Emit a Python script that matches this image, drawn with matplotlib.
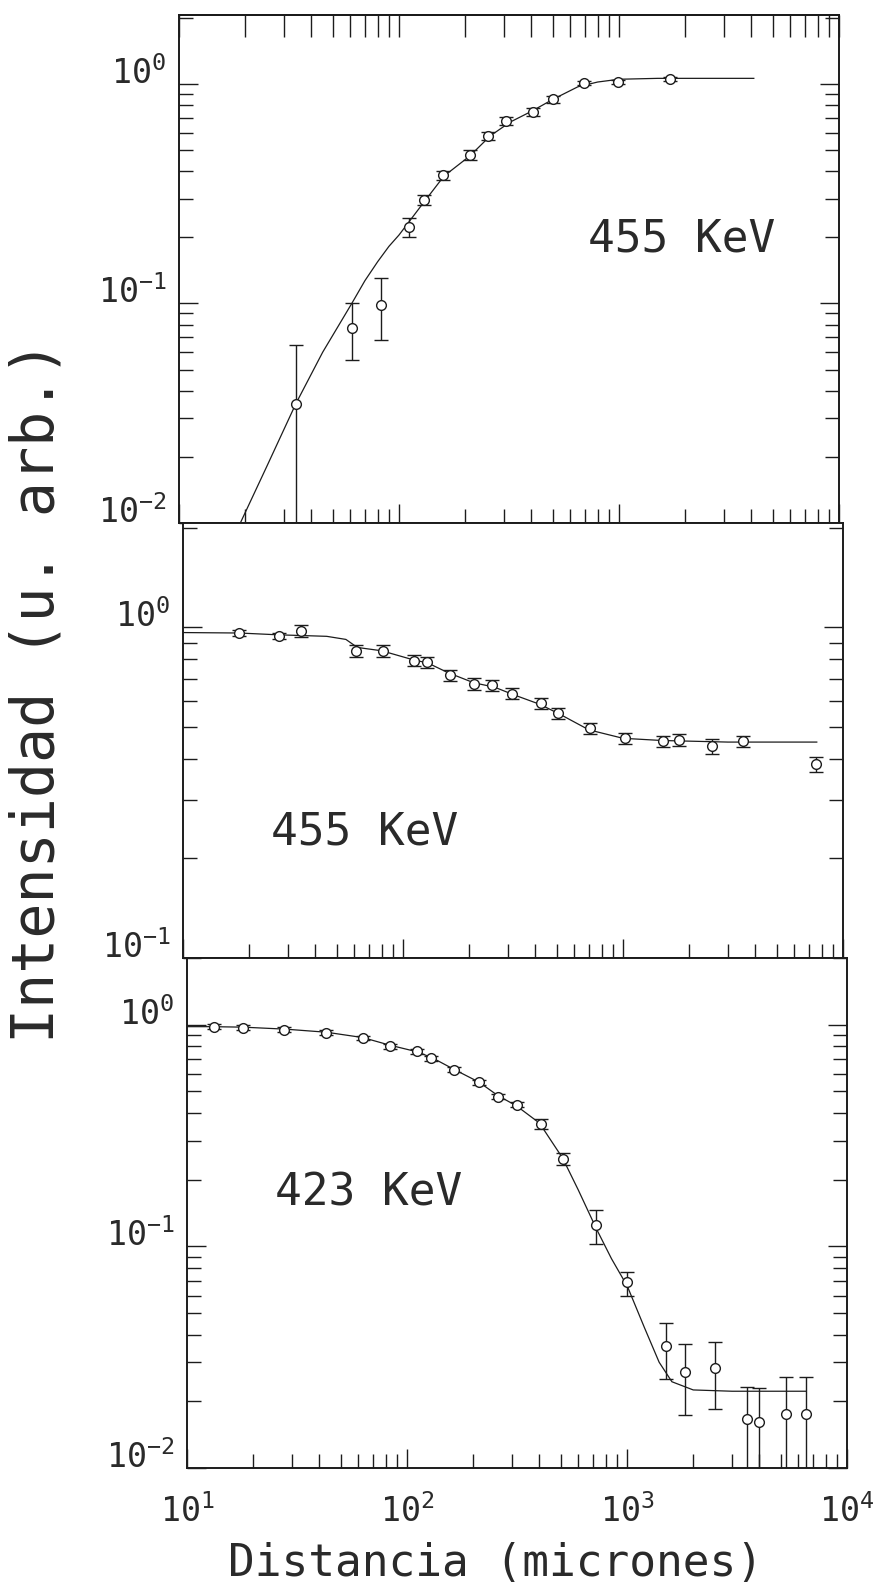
import numpy as np
import matplotlib.pyplot as plt
from matplotlib.ticker import LogLocator, NullFormatter, FuncFormatter

plt.rcParams['font.family'] = ['DejaVu Sans Mono']
plt.rcParams['mathtext.fontset'] = 'custom'
plt.rcParams['mathtext.rm'] = 'DejaVu Sans Mono'
plt.rcParams['mathtext.it'] = 'DejaVu Sans Mono'
plt.rcParams['mathtext.bf'] = 'DejaVu Sans Mono'
plt.rcParams['axes.unicode_minus'] = False

INK = '#1c1c1c'
TXT = '#2a2a2a'

# panel 1: 455 KeV (rising)
top_x = [34, 61, 83, 111, 130, 158, 211, 253, 305, 405, 501, 692, 986, 1714]
top_y = [0.035, 0.077, 0.098, 0.222, 0.297, 0.383, 0.475, 0.58, 0.68, 0.743, 0.85, 1.01, 1.02, 1.05]
top_lo = [0.001, 0.055, 0.068, 0.200, 0.282, 0.364, 0.452, 0.553, 0.652, 0.712, 0.820, 0.99, 1.00, 1.03]
top_hi = [0.065, 0.100, 0.131, 0.245, 0.312, 0.402, 0.498, 0.607, 0.708, 0.774, 0.880, 1.03, 1.04, 1.07]
top_fit_x = [19, 25, 34, 45, 61, 70, 80, 90, 100, 130, 160, 210, 260, 320, 400, 500, 650, 800, 1000, 1500, 4100]
top_fit_y = [0.010, 0.018, 0.035, 0.060, 0.100, 0.127, 0.155, 0.182, 0.205, 0.29, 0.38, 0.47, 0.58, 0.67, 0.75, 0.85, 0.97, 1.02, 1.05, 1.06, 1.06]

# panel 2: 455 KeV (falling)
mid_x = [18, 27.3, 34.3, 61.4, 81, 112, 129, 163, 210, 253, 313, 423, 509, 705, 1023, 1520, 1790, 2540, 3510, 7500]
mid_y = [0.96, 0.945, 0.975, 0.851, 0.851, 0.794, 0.785, 0.716, 0.676, 0.668, 0.631, 0.589, 0.55, 0.495, 0.462, 0.452, 0.457, 0.437, 0.452, 0.385]
mid_lo = [0.94, 0.925, 0.935, 0.815, 0.815, 0.762, 0.754, 0.687, 0.649, 0.641, 0.606, 0.565, 0.528, 0.475, 0.444, 0.434, 0.439, 0.415, 0.434, 0.365]
mid_hi = [0.98, 0.965, 1.015, 0.887, 0.887, 0.826, 0.816, 0.745, 0.703, 0.695, 0.656, 0.613, 0.572, 0.515, 0.480, 0.470, 0.475, 0.459, 0.470, 0.405]
mid_fit_x = [10, 18, 27, 35, 45, 55, 62, 80, 110, 130, 160, 210, 260, 320, 420, 520, 700, 1000, 1500, 3000, 7600]
mid_fit_y = [0.965, 0.962, 0.95, 0.945, 0.94, 0.92, 0.87, 0.85, 0.80, 0.78, 0.73, 0.68, 0.66, 0.625, 0.585, 0.545, 0.49, 0.462, 0.455, 0.45, 0.45]

# panel 3: 423 KeV
bot_x = [13.2, 17.9, 27.7, 43, 63.2, 83.5, 111, 129, 163, 213, 258, 315, 407, 513, 726, 1004, 1503, 1835, 2500, 3510, 3980, 5300, 6500]
bot_y = [0.98, 0.97, 0.95, 0.92, 0.872, 0.80, 0.758, 0.705, 0.628, 0.551, 0.474, 0.435, 0.356, 0.248, 0.125, 0.069, 0.0356, 0.027, 0.0282, 0.0166, 0.0162, 0.0176, 0.0176]
bot_lo = [0.955, 0.945, 0.926, 0.897, 0.850, 0.780, 0.739, 0.687, 0.612, 0.537, 0.462, 0.424, 0.338, 0.232, 0.103, 0.0595, 0.0253, 0.0173, 0.0184, 0.001, 0.001, 0.001, 0.001]
bot_hi = [1.005, 0.995, 0.974, 0.943, 0.894, 0.820, 0.777, 0.723, 0.644, 0.565, 0.486, 0.446, 0.375, 0.265, 0.146, 0.0768, 0.045, 0.0364, 0.037, 0.0233, 0.023, 0.0257, 0.0257]
bot_fit_x = [10, 13, 18, 28, 43, 63, 83, 111, 130, 163, 213, 258, 315, 400, 510, 600, 726, 850, 1004, 1200, 1400, 1600, 2000, 3000, 6500]
bot_fit_y = [0.98, 0.98, 0.975, 0.955, 0.925, 0.875, 0.81, 0.755, 0.71, 0.63, 0.55, 0.48, 0.43, 0.36, 0.25, 0.18, 0.12, 0.088, 0.066, 0.043, 0.03, 0.0245, 0.0225, 0.0222, 0.0222]

W, H = 890, 1586
fig = plt.figure(figsize=(W / 100, H / 100), dpi=100)


def box(left, top, bottom, width=660):
    return [left / W, 1 - bottom / H, width / W, (bottom - top) / H]


ax1 = fig.add_axes(box(179, 15, 523))
ax2 = fig.add_axes(box(183, 523, 958))
ax3 = fig.add_axes(box(187, 958, 1468))

dec = FuncFormatter(lambda v, p: r'$10^{%d}$' % round(np.log10(v)))

panels = [
    (ax1, top_x, top_y, top_lo, top_hi, top_fit_x, top_fit_y, (0.01, 2.06), '455 KeV', (0.762, 0.56)),
    (ax2, mid_x, mid_y, mid_lo, mid_hi, mid_fit_x, mid_fit_y, (0.1, 2.07), '455 KeV', (0.275, 0.29)),
    (ax3, bot_x, bot_y, bot_lo, bot_hi, bot_fit_x, bot_fit_y, (0.01, 2.0), '423 KeV', (0.275, 0.54)),
]

for ax, x, y, lo, hi, fx, fy, ylim, lab, pos in panels:
    x = np.array(x)
    y = np.array(y)
    yerr = [y - np.array(lo), np.array(hi) - y]
    ax.plot(fx, fy, '-', color=INK, lw=0.9)
    ax.errorbar(x, y, yerr=yerr, fmt='o', ms=7, mfc='white', mec=INK, mew=1.0,
                ecolor=INK, elinewidth=1.0, capsize=5, capthick=1.0)
    ax.set_xscale('log')
    ax.set_yscale('log')
    ax.set_xlim(10, 1e4)
    ax.set_ylim(*ylim)
    for s in ax.spines.values():
        s.set_linewidth(1.4)
        s.set_color(INK)
    ax.xaxis.set_major_locator(LogLocator(base=10))
    ax.xaxis.set_minor_locator(LogLocator(base=10, subs=range(2, 10)))
    ax.yaxis.set_major_locator(LogLocator(base=10))
    ax.yaxis.set_minor_locator(LogLocator(base=10, subs=range(2, 10)))
    ax.xaxis.set_minor_formatter(NullFormatter())
    ax.yaxis.set_minor_formatter(NullFormatter())
    ax.yaxis.set_major_formatter(dec)
    ax.tick_params(axis='x', which='major', direction='in', length=14, width=1.0, color=INK,
                   top=False, bottom=True, labelsize=24, labelcolor=TXT, pad=19)
    ax.tick_params(axis='x', which='minor', direction='in', length=10, width=1.0, color=INK,
                   top=False, bottom=True)
    ax.tick_params(axis='y', which='major', direction='in', length=14, width=1.0, color=INK,
                   left=True, right=True, labelsize=24, labelcolor=TXT, pad=9)
    ax.tick_params(axis='y', which='minor', direction='in', length=10, width=1.0, color=INK,
                   left=True, right=True)
    for t in ax.get_yticklabels():
        t.set_verticalalignment('baseline')
    ax.text(pos[0], pos[1], lab, transform=ax.transAxes, ha='center', va='center',
            fontsize=32, color=TXT)

ax1.tick_params(axis='x', labelbottom=False)
ax2.tick_params(axis='x', labelbottom=False)
ax3.xaxis.set_major_formatter(dec)

# long ticks along the top edge of the first panel
sec = ax1.secondary_xaxis('top')
sec.xaxis.set_major_locator(LogLocator(base=10))
sec.xaxis.set_minor_locator(LogLocator(base=10, subs=range(2, 10)))
sec.xaxis.set_major_formatter(NullFormatter())
sec.xaxis.set_minor_formatter(NullFormatter())
sec.tick_params(axis='x', which='both', direction='in', length=16, width=1.0, color=INK)
sec.spines['top'].set_linewidth(1.4)

fig.text(37 / W, 1 - 692 / H, 'Intensidad (u. arb.)', rotation=90, ha='center', va='center',
         fontsize=42, color=TXT)
fig.text(495 / W, 1 - 1576 / H, 'Distancia (micrones)', ha='center', va='baseline',
         fontsize=32, color=TXT)

fig.savefig('out.png', dpi=100, facecolor='white')
